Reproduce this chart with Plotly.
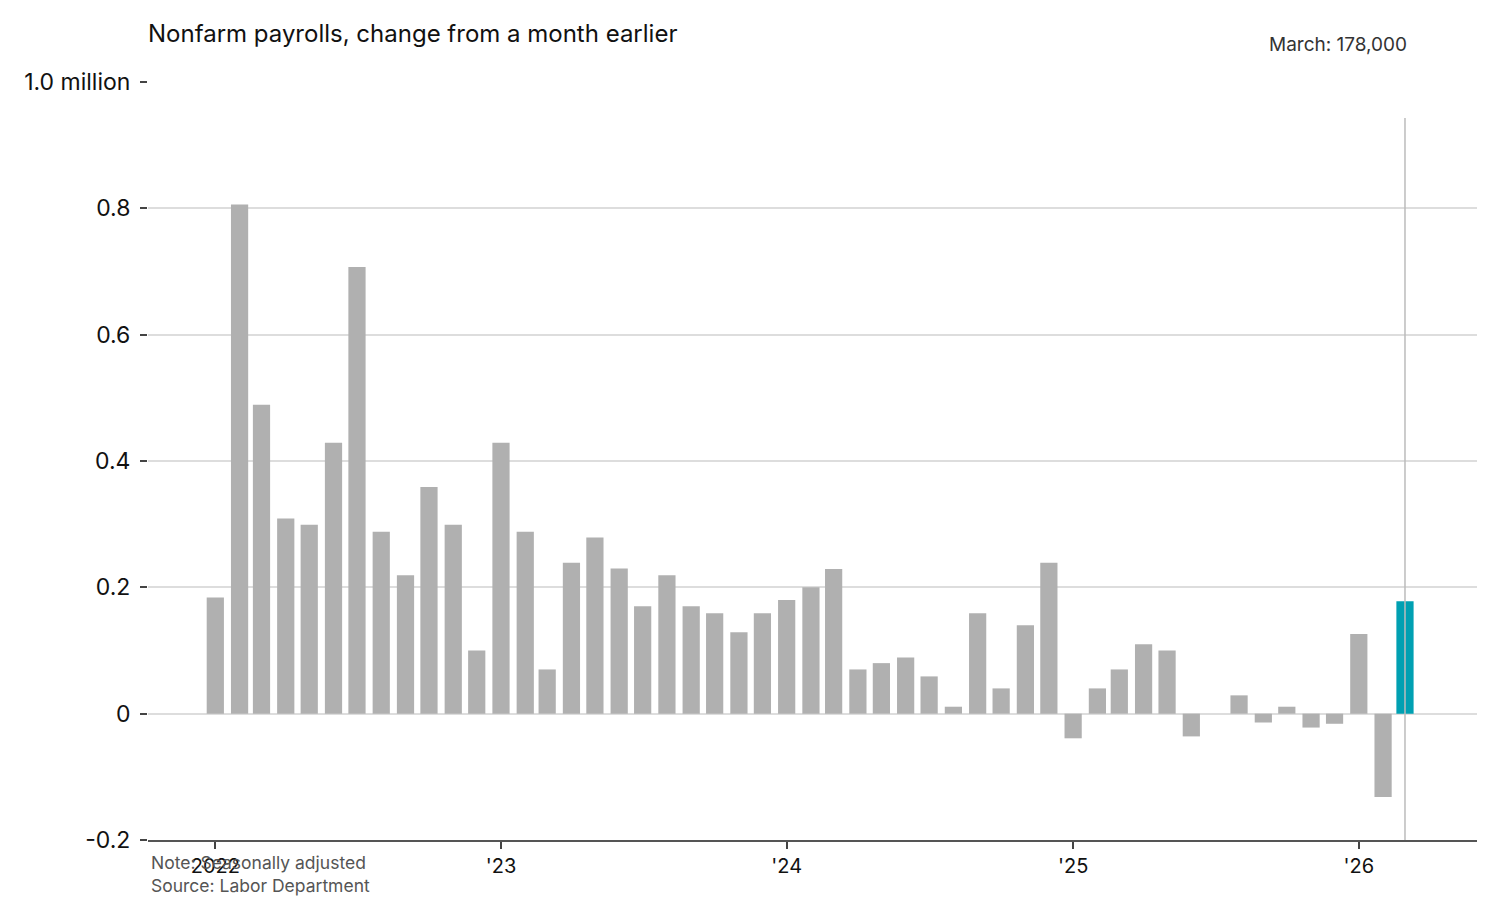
import plotly.graph_objects as go
import pandas as pd

months = pd.date_range("2022-01-01", "2026-03-01", freq="MS").strftime("%Y-%m-%d").tolist()
values = [
    0.184, 0.806, 0.489, 0.309, 0.299, 0.429, 0.707, 0.288, 0.219, 0.359, 0.299, 0.100,
    0.429, 0.288, 0.070, 0.239, 0.279, 0.230, 0.170, 0.219, 0.170, 0.159, 0.129, 0.159,
    0.180, 0.200, 0.229, 0.070, 0.080, 0.089, 0.059, 0.011, 0.159, 0.040, 0.140, 0.239,
    -0.039, 0.040, 0.070, 0.110, 0.100, -0.036, 0.000, 0.029, -0.014, 0.011, -0.022, -0.016,
    0.126, -0.132, 0.178,
]
year_ticks = ["2022-01-01", "2023-01-01", "2024-01-01", "2025-01-01", "2026-01-01"]
year_labels = ["2022", "'23", "'24", "'25", "'26"]
y_ticks = [-0.2, 0, 0.2, 0.4, 0.6, 0.8, 1.0]
y_labels = ["-0.2", "0", "0.2", "0.4", "0.6", "0.8", "1.0 million"]
highlight_label = "March: 178,000"

GREY = "#b0b0b0"
TEAL = "#00a0b2"
FONT = "Inter"

colors = [GREY] * (len(values) - 1) + [TEAL]
day_ms = 86400000

# page offset of the plot (browser body margin is 8px)
PLOT_LEFT, PLOT_RIGHT, PLOT_TOP, PLOT_BOTTOM = 148, 1477, 82, 840
PH = PLOT_BOTTOM - PLOT_TOP
PW = PLOT_RIGHT - PLOT_LEFT


def py(pix):
    return (PLOT_BOTTOM - pix) / PH


def px(pix):
    return (pix - PLOT_LEFT) / PW


fig = go.Figure()
fig.add_trace(go.Bar(
    x=months, y=values, marker=dict(color=colors, line=dict(width=0)),
    width=[22 * day_ms] * len(values), hoverinfo="skip",
))

last_x = months[-1]
fig.add_shape(type="line", xref="x", yref="y", x0=last_x, x1=last_x, y0=-0.2, y1=0.943,
              line=dict(color="#bbbbbb", width=1.5), layer="above")

fig.add_annotation(x=last_x, xref="x", y=py(44), yref="paper", yanchor="middle", xanchor="right",
                   text=highlight_label, showarrow=False, xshift=4,
                   font=dict(family=FONT, size=19, color="#333333"))

fig.add_annotation(x=px(146), xref="paper", y=py(33), yref="paper",
                   xanchor="left", yanchor="middle", text="Nonfarm payrolls, change from a month earlier",
                   showarrow=False, font=dict(family=FONT, size=24, color="#111111"))
fig.add_annotation(x=px(149), xref="paper", y=py(874), yref="paper",
                   xanchor="left", yanchor="middle",
                   text="Note: Seasonally adjusted<br>Source: Labor Department",
                   align="left", showarrow=False,
                   font=dict(family=FONT, size=17.5, color="#555555"))

fig.update_layout(
    width=1500, height=900,
    margin=dict(l=PLOT_LEFT - 8, r=1500 + 8 - PLOT_RIGHT, t=PLOT_TOP - 8, b=900 + 8 - PLOT_BOTTOM),
    paper_bgcolor="white", plot_bgcolor="white",
    showlegend=False,
    font=dict(family=FONT, color="#111111"),
    xaxis=dict(
        type="date", range=["2021-10-07", "2026-06-01"],
        tickvals=year_ticks, ticktext=year_labels,
        ticks="outside", ticklen=7, tickwidth=2, tickcolor="#444444",
        showline=True, linecolor="#555555", linewidth=2,
        showgrid=False, zeroline=False,
        tickfont=dict(family=FONT, size=20, color="#111111"),
    ),
    yaxis=dict(
        range=[-0.2, 1.0], tickvals=y_ticks, ticktext=y_labels,
        ticks="outside", ticklen=7, tickwidth=2, tickcolor="#444444",
        ticklabelstandoff=5,
        showgrid=True, gridcolor="#dddddd", gridwidth=1.5,
        zeroline=True, zerolinecolor="#dddddd", zerolinewidth=1.5,
        showline=False,
        tickfont=dict(family=FONT, size=23, color="#111111"),
    ),
)

fig.write_html("out.html")
